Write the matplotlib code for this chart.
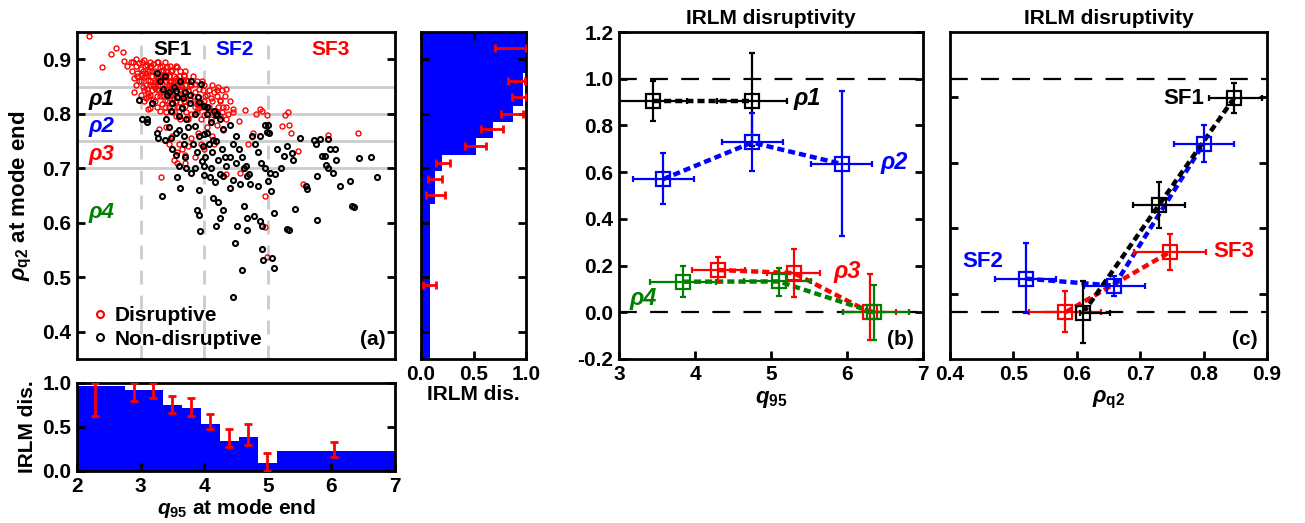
import numpy as np
import matplotlib
matplotlib.use("Agg")
import matplotlib.pyplot as plt
from matplotlib.lines import Line2D
from matplotlib.font_manager import FontProperties

plt.rcParams["font.family"] = ["Liberation Sans", "DejaVu Sans"]
plt.rcParams["font.weight"] = "bold"
plt.rcParams["axes.labelweight"] = "bold"
plt.rcParams["axes.titleweight"] = "bold"
plt.rcParams["mathtext.fontset"] = "custom"
plt.rcParams["mathtext.rm"] = "Liberation Sans:bold"
plt.rcParams["mathtext.it"] = "Liberation Sans:bold:italic"
plt.rcParams["mathtext.bf"] = "Liberation Sans:bold"

# ── (a) scatter: rho_q2 vs q95 at mode end ──────────────────────────────
dis_q95 = [2.19, 2.40, 2.53, 2.62, 2.73, 2.74, 2.78, 2.89, 3.12, 3.29, 3.32, 3.57, 3.70,
           2.85, 2.92, 2.98, 3.05, 3.10, 3.15, 3.20, 3.25, 3.30, 3.35, 3.42, 3.50, 3.58, 3.00, 2.95, 3.08,
           2.90, 2.98, 3.05, 3.12, 3.18, 3.22, 3.28, 3.33, 3.38, 3.45, 3.50, 3.55, 3.60, 3.65, 3.72, 3.78,
           3.03, 3.10, 3.15, 3.25, 3.35, 3.42,
           3.00, 3.08, 3.15, 3.20, 3.30, 3.38, 3.45, 3.52, 3.58, 3.62, 3.70, 3.78, 3.85, 3.90, 3.95, 4.05,
           4.10, 4.15, 3.92, 3.85,
           3.15, 3.30, 3.45, 3.60, 3.70, 3.80, 3.90, 4.00, 4.08, 4.18, 4.25, 4.30, 4.38, 3.55, 3.75,
           3.40, 3.50, 3.60, 3.65, 3.70, 3.75, 3.80, 3.90, 3.95, 4.05, 4.12, 4.20, 4.30, 3.58, 3.85, 4.00,
           3.45, 3.52, 4.15,
           4.64, 4.88, 4.98, 5.31, 5.27, 5.23, 5.34, 5.37, 5.47, 5.55, 5.95, 6.42, 4.96, 4.96, 4.98,
           4.34, 4.57, 4.82, 4.91, 4.77, 4.69, 4.54, 4.46, 4.35, 4.22, 4.25,
           3.02, 3.18, 3.27, 3.40, 3.47, 3.62, 3.68, 3.33, 3.12, 3.22, 3.48, 3.57, 3.75, 3.88, 4.02,
           # dense core
           2.88, 3.02, 3.14, 3.28, 3.38,
           2.93, 3.07, 3.17, 3.33, 3.46, 3.55,
           2.87, 3.03, 3.13, 3.22, 3.32, 3.40, 3.48, 3.62, 3.70,
           2.95, 3.08, 3.24, 3.35, 3.44, 3.52, 3.60, 3.68, 3.82,
           3.00, 3.15, 3.25, 3.40, 3.48, 3.57, 3.66, 3.75, 3.88, 3.97,
           2.93, 3.08, 3.20, 3.30, 3.45, 3.55, 3.70, 3.80, 4.00, 4.12,
           3.05, 3.18, 3.28, 3.40, 3.50, 3.63, 3.75, 3.98, 4.08, 4.20, 4.28,
           3.12, 3.25, 3.35, 3.48, 3.66, 3.82, 4.02, 4.20, 4.32,
           3.05, 3.22, 3.42, 3.55, 3.68, 3.88, 4.00, 4.12, 4.25, 4.40,
           3.25, 3.38, 3.52, 3.65, 3.85, 3.95, 4.05, 4.22, 4.35,
           3.40, 3.50, 3.72, 3.88, 4.12, 4.28, 4.45,
           3.62, 3.95, 4.10, 4.35]
dis_rho = [0.942, 0.885, 0.909, 0.921, 0.913, 0.897, 0.888, 0.840, 0.808, 0.772, 0.684, 0.710, 0.709,
           0.895, 0.900, 0.893, 0.898, 0.890, 0.885, 0.892, 0.895, 0.885, 0.880, 0.885, 0.880, 0.885, 0.882, 0.875, 0.875,
           0.865, 0.860, 0.868, 0.862, 0.870, 0.858, 0.865, 0.855, 0.868, 0.860, 0.852, 0.865, 0.858, 0.850, 0.862, 0.855,
           0.850, 0.845, 0.852, 0.845, 0.842, 0.848,
           0.835, 0.828, 0.835, 0.825, 0.832, 0.825, 0.835, 0.828, 0.838, 0.822, 0.832, 0.825, 0.840, 0.830, 0.820, 0.835,
           0.828, 0.840, 0.845, 0.855,
           0.810, 0.805, 0.812, 0.805, 0.815, 0.800, 0.810, 0.798, 0.812, 0.805, 0.795, 0.812, 0.800, 0.795, 0.790,
           0.775, 0.760, 0.745, 0.735, 0.725, 0.740, 0.755, 0.765, 0.745, 0.775, 0.760, 0.780, 0.770, 0.730, 0.720, 0.735,
           0.745, 0.715, 0.745,
           0.806, 0.808, 0.797, 0.804, 0.797, 0.777, 0.780, 0.765, 0.731, 0.671, 0.761, 0.764, 0.649, 0.592, 0.538,
           0.689, 0.692, 0.800, 0.805, 0.765, 0.744, 0.787, 0.808, 0.845, 0.850, 0.826,
           0.872, 0.878, 0.862, 0.872, 0.858, 0.845, 0.872, 0.818, 0.838, 0.848, 0.818, 0.812, 0.842, 0.818, 0.812,
           # dense core
           0.895, 0.895, 0.895, 0.895, 0.895,
           0.888, 0.888, 0.888, 0.888, 0.888, 0.888,
           0.878, 0.878, 0.878, 0.878, 0.878, 0.878, 0.878, 0.878, 0.878,
           0.870, 0.870, 0.870, 0.870, 0.870, 0.870, 0.870, 0.870, 0.870,
           0.860, 0.860, 0.860, 0.860, 0.860, 0.860, 0.860, 0.860, 0.860, 0.860,
           0.852, 0.852, 0.852, 0.852, 0.852, 0.852, 0.852, 0.852, 0.852, 0.852,
           0.843, 0.843, 0.843, 0.843, 0.843, 0.843, 0.843, 0.843, 0.843, 0.843, 0.843,
           0.833, 0.833, 0.833, 0.833, 0.833, 0.833, 0.833, 0.833, 0.833,
           0.823, 0.823, 0.823, 0.823, 0.823, 0.823, 0.823, 0.823, 0.823, 0.823,
           0.813, 0.813, 0.813, 0.813, 0.813, 0.813, 0.813, 0.813, 0.813,
           0.803, 0.803, 0.803, 0.803, 0.803, 0.803, 0.803,
           0.790, 0.790, 0.790, 0.790]

non_q95 = [2.97, 3.02, 3.10, 3.18, 3.25, 3.30, 3.35, 3.38, 3.45, 3.50, 3.52, 3.58, 3.62, 3.65, 3.70,
           3.72, 3.78, 3.80, 3.85, 3.90, 3.95, 4.00, 4.05, 4.10, 4.15, 4.20, 4.25, 3.40, 3.45, 3.48,
           3.55, 3.60, 3.68, 3.75, 3.82, 3.88, 3.92, 3.98, 4.02, 4.08, 4.12, 4.18, 4.22, 4.28, 4.32,
           4.35, 4.40, 4.45, 4.50, 4.55, 4.60, 4.65, 4.70, 4.75, 4.80, 4.85, 4.90, 4.95, 5.00, 5.02,
           4.40, 4.50, 4.25, 4.10, 4.00, 3.72, 3.70, 3.60, 3.55, 3.38, 3.25, 3.10,
           3.33, 3.58, 3.62, 3.92, 3.88, 3.92, 3.93, 4.14, 4.22, 4.29, 4.25, 4.19, 4.46, 4.49, 4.52,
           4.59, 4.62, 4.67, 4.68, 4.79, 4.88, 4.91, 4.91, 4.93, 5.06, 5.10, 5.09, 5.05, 5.01, 5.30,
           5.33, 5.43, 5.77, 6.32, 6.36, 6.71, 6.44, 6.62, 6.29, 6.14, 5.60, 5.62, 5.78, 5.95, 6.02,
           5.85, 5.82, 5.72, 5.76, 5.98, 5.95, 5.38, 5.40, 5.50, 5.30, 5.21, 5.14, 5.04, 4.96, 4.98,
           4.68, 4.57, 4.46, 4.41, 4.17, 4.09, 3.99, 3.80, 3.96, 4.05, 3.28, 4.88, 3.50, 3.68,
           3.85, 4.30, 4.62, 4.72, 4.84, 5.12, 5.25, 6.05, 6.08, 5.90, 5.92,
           3.42, 3.55, 3.66, 3.78, 3.92, 4.05, 4.18, 4.30, 3.48, 3.60, 3.86, 4.00, 4.14]
non_rho = [0.826, 0.790, 0.785, 0.820, 0.875, 0.860, 0.845, 0.870, 0.840, 0.820, 0.850, 0.830, 0.860, 0.810, 0.840,
           0.790, 0.820, 0.860, 0.800, 0.830, 0.855, 0.815, 0.800, 0.785, 0.805, 0.800, 0.790, 0.790, 0.775, 0.755,
           0.765, 0.770, 0.760, 0.775, 0.745, 0.730, 0.760, 0.740, 0.720, 0.745, 0.730, 0.750, 0.715, 0.735, 0.720,
           0.705, 0.720, 0.745, 0.760, 0.735, 0.720, 0.705, 0.690, 0.760, 0.745, 0.730, 0.710, 0.700, 0.780, 0.765,
           0.780, 0.710, 0.690, 0.700, 0.705, 0.700, 0.720, 0.705, 0.725, 0.752, 0.765, 0.790,
           0.649, 0.684, 0.663, 0.660, 0.624, 0.615, 0.584, 0.646, 0.638, 0.623, 0.609, 0.594, 0.463, 0.563, 0.594,
           0.514, 0.630, 0.609, 0.587, 0.612, 0.603, 0.594, 0.552, 0.532, 0.535, 0.517, 0.618, 0.658, 0.676, 0.588,
           0.586, 0.625, 0.605, 0.631, 0.628, 0.684, 0.719, 0.720, 0.676, 0.667, 0.667, 0.662, 0.686, 0.700, 0.692,
           0.722, 0.753, 0.752, 0.745, 0.735, 0.753, 0.728, 0.716, 0.756, 0.741, 0.700, 0.736, 0.692, 0.779, 0.766,
           0.686, 0.671, 0.679, 0.664, 0.675, 0.684, 0.688, 0.692, 0.713, 0.765, 0.755, 0.760, 0.735, 0.745,
           0.700, 0.685, 0.700, 0.672, 0.668, 0.690, 0.722, 0.735, 0.716, 0.722, 0.706,
           0.835, 0.842, 0.828, 0.835, 0.822, 0.812, 0.798, 0.772, 0.805, 0.795, 0.778, 0.762, 0.752]

sf_lines = [3, 4, 5]
rho_lines = [0.85, 0.80, 0.75, 0.70]

# ── bottom histogram: IRLM disruptivity vs q95 ──────────────────────────
q_edges = [2.0, 2.75, 3.05, 3.35, 3.65, 3.95, 4.25, 4.55, 4.85, 5.15, 7.0]
q_frac = [0.97, 0.92, 0.92, 0.75, 0.72, 0.53, 0.34, 0.39, 0.09, 0.23]
q_err_x = [2.29, 2.89, 3.19, 3.49, 3.79, 4.09, 4.39, 4.69, 4.98, 6.04]
q_err_lo = [0.63, 0.79, 0.83, 0.66, 0.63, 0.48, 0.27, 0.30, 0.00, 0.16]
q_err_hi = [1.00, 1.00, 1.00, 0.855, 0.83, 0.65, 0.48, 0.53, 0.21, 0.33]

# ── right histogram: IRLM disruptivity vs rho_q2 ────────────────────────
r_edges = [0.35, 0.635, 0.665, 0.695, 0.725, 0.755, 0.785, 0.815, 0.845, 0.875, 0.95]
r_frac = [0.09, 0.13, 0.13, 0.20, 0.52, 0.69, 0.88, 0.97, 0.97, 1.00]
r_err_y = [0.486, 0.651, 0.681, 0.709, 0.741, 0.772, 0.800, 0.831, 0.861, 0.920]
r_err_lo = [0.02, 0.05, 0.07, 0.14, 0.42, 0.57, 0.76, 0.87, 0.83, 0.70]
r_err_hi = [0.14, 0.23, 0.20, 0.28, 0.62, 0.78, 0.97, 1.00, 0.99, 1.00]

# ── (b) disruptivity vs q95 per rho range ───────────────────────────────
b_series = {
    "ρ1": dict(color="black", x=[3.45, 4.75], y=[0.905, 0.905],
               xlo=[2.98, 4.29], xhi=[3.90, 5.21], ylo=[0.82, 0.71], yhi=[0.99, 1.11],
               lab=(5.30, 0.915)),
    "ρ2": dict(color="blue", x=[3.58, 4.75, 5.93], y=[0.57, 0.727, 0.635],
               xlo=[3.18, 4.35, 5.52], xhi=[3.99, 5.16, 6.33], ylo=[0.463, 0.603, 0.328], yhi=[0.68, 0.853, 0.946],
               lab=(6.44, 0.64)),
    "ρ3": dict(color="red", x=[4.30, 5.30, 6.30], y=[0.181, 0.168, 0.0],
               xlo=[3.96, 4.95, 5.95], xhi=[4.66, 5.64, 6.64], ylo=[0.128, 0.064, -0.118], yhi=[0.235, 0.27, 0.165],
               lab=(5.82, 0.175)),
    "ρ4": dict(color="#008000", x=[3.84, 5.10, 6.35], y=[0.131, 0.132, 0.0],
               xlo=[3.41, 4.64, 5.95], xhi=[4.28, 5.52, 6.81], ylo=[0.064, 0.07, -0.118], yhi=[0.199, 0.19, 0.117],
               lab=(3.14, 0.06)),
}

# ── (c) disruptivity vs rho_q2 per q95 range ────────────────────────────
c_series = {
    "SF3": dict(color="red", x=[0.582, 0.747], y=[0.0, 0.258],
                xlo=[0.524, 0.690], xhi=[0.638, 0.804], ylo=[-0.085, 0.182], yhi=[0.089, 0.336],
                lab=(0.815, 0.26)),
    "SF2": dict(color="blue", x=[0.52, 0.659, 0.80], y=[0.144, 0.114, 0.722],
                xlo=[0.471, 0.612, 0.753], xhi=[0.567, 0.708, 0.848], ylo=[-0.003, 0.071, 0.642], yhi=[0.296, 0.156, 0.803],
                lab=(0.42, 0.218)),
    "SF1": dict(color="black", x=[0.61, 0.730, 0.848], y=[-0.003, 0.461, 0.917],
                xlo=[0.605, 0.689, 0.809], xhi=[0.652, 0.771, 0.892], ylo=[-0.132, 0.361, 0.853], yhi=[0.133, 0.556, 0.98],
                lab=(0.736, 0.917)),
}

W, H = 1305, 523
fig = plt.figure(figsize=(W / 100, H / 100), dpi=100)
TICK_FONT = FontProperties(family="Liberation Sans", weight="bold", size=15)


def box(l, t, r, b):
    return [l / W, (H - b) / H, (r - l) / W, (b - t) / H]


def style(ax):
    for s in ax.spines.values():
        s.set_linewidth(2)
    ax.tick_params(direction="in", length=6, width=2, labelsize=15, pad=4)


def set_ticks(ax, xt=None, xl=None, yt=None, yl=None):
    # explicit labels so they can carry the bold font
    if xt is not None:
        ax.set_xticks(xt)
        ax.set_xticklabels(xl if xl is not None else [str(v) for v in xt], fontproperties=TICK_FONT)
    if yt is not None:
        ax.set_yticks(yt)
        ax.set_yticklabels(yl if yl is not None else [str(v) for v in yt], fontproperties=TICK_FONT)


ax_a = fig.add_axes(box(77, 32, 395, 359))
ax_q = fig.add_axes(box(77, 383, 395, 471))
ax_r = fig.add_axes(box(421, 32, 526, 359))
ax_b = fig.add_axes(box(619, 32, 923, 359))
ax_c = fig.add_axes(box(950, 32, 1267, 359))
for ax in (ax_a, ax_q, ax_r, ax_b, ax_c):
    style(ax)

# Panel (a)
ax = ax_a
for x in sf_lines:
    ax.axvline(x, color="#cccccc", lw=2, ls=(0, (5, 4)), zorder=0)
for y in rho_lines:
    ax.axhline(y, color="#cccccc", lw=2, zorder=0)
ax.plot(dis_q95, dis_rho, "o", ms=3.6, mfc="none", mec="red", mew=1.0, ls="none")
ax.plot(non_q95, non_rho, "o", ms=3.6, mfc="none", mec="black", mew=1.5, ls="none")
ax.set_xlim(2, 7)
ax.set_ylim(0.35, 0.95)
ax.set_xticks([])
set_ticks(ax, yt=[0.4, 0.5, 0.6, 0.7, 0.8, 0.9])
ax.tick_params(axis="y", right=True)
ax.set_ylabel(r"$\rho_{\rm q2}$ at mode end", fontsize=16, labelpad=6)
for txt, x, c in [("SF1", 3.51, "black"), ("SF2", 4.48, "blue"), ("SF3", 5.98, "red")]:
    ax.text(x, 0.918, txt, color=c, fontsize=15, ha="center", va="center")
for txt, y, c in [("ρ1", 0.826, "black"), ("ρ2", 0.776, "blue"), ("ρ3", 0.725, "red"), ("ρ4", 0.618, "#008000")]:
    ax.text(2.39, y, txt, color=c, fontsize=16, style="italic", ha="center", va="center")
handles = [Line2D([], [], marker="o", ls="none", ms=5, mfc="none", mec="red", mew=1.5),
           Line2D([], [], marker="o", ls="none", ms=5, mfc="none", mec="black", mew=1.5)]
ax.legend(handles, ["Disruptive", "Non-disruptive"], loc="lower left", frameon=False,
          fontsize=15, handletextpad=0.1, borderaxespad=0.1, labelspacing=0.2, handlelength=1.2)
ax.text(0.97, 0.03, "(a)", transform=ax.transAxes, fontsize=15, ha="right", va="bottom")

# Bottom histogram
ax = ax_q
ax.stairs(q_frac, q_edges, fill=True, color="blue", zorder=1)
ax.errorbar(q_err_x, [(lo + hi) / 2 for lo, hi in zip(q_err_lo, q_err_hi)],
            yerr=[[(hi - lo) / 2 for lo, hi in zip(q_err_lo, q_err_hi)]] * 2,
            fmt="none", ecolor="red", elinewidth=2, capsize=3, capthick=2, zorder=3)
ax.set_xlim(2, 7)
ax.set_ylim(0, 1.0)
set_ticks(ax, xt=[2, 3, 4, 5, 6, 7], yt=[0.0, 0.5, 1.0])
ax.tick_params(axis="y", right=True)
ax.set_ylabel("IRLM dis.", fontsize=15, labelpad=4)
ax.set_xlabel(r"$q_{\rm 95}$ at mode end", fontsize=15, labelpad=1)

# Right histogram
ax = ax_r
ax.stairs(r_frac, r_edges, fill=True, color="blue", orientation="horizontal", zorder=1)
ax.errorbar([(lo + hi) / 2 for lo, hi in zip(r_err_lo, r_err_hi)], r_err_y,
            xerr=[[(hi - lo) / 2 for lo, hi in zip(r_err_lo, r_err_hi)]] * 2,
            fmt="none", ecolor="red", elinewidth=2, capsize=3, capthick=2, zorder=3)
ax.set_xlim(0, 1.0)
ax.set_ylim(0.35, 0.95)
set_ticks(ax, xt=[0.0, 0.5, 1.0])
ax.set_yticks([0.4, 0.5, 0.6, 0.7, 0.8, 0.9])
ax.tick_params(axis="y", right=True, labelleft=False)
ax.tick_params(axis="x", top=True)
ax.set_xlabel("IRLM dis.", fontsize=15, labelpad=1)


def draw_series(ax, series, fs):
    for name, s in series.items():
        c = s["color"]
        ax.plot(s["x"], s["y"], color=c, lw=3.2, ls=(0, (1.6, 0.9)), zorder=2)
        xerr = [[x - lo for x, lo in zip(s["x"], s["xlo"])], [hi - x for x, hi in zip(s["x"], s["xhi"])]]
        yerr = [[y - lo for y, lo in zip(s["y"], s["ylo"])], [hi - y for y, hi in zip(s["y"], s["yhi"])]]
        ax.errorbar(s["x"], s["y"], xerr=xerr, yerr=yerr, fmt="s", ms=10, mfc="none", mec=c, mew=1.6,
                    ecolor=c, elinewidth=1.6, capsize=2.5, capthick=1.6, zorder=3)
        style_kw = dict(style="italic") if name.startswith("ρ") else {}
        ax.text(s["lab"][0], s["lab"][1], name, color=c, fontsize=fs, ha="left", va="center", **style_kw)


# Panel (b)
ax = ax_b
for y in (0.0, 1.0):
    ax.axhline(y, color="black", lw=1.6, ls=(0, (8, 6)), zorder=1)
draw_series(ax, b_series, 17)
ax.set_xlim(3, 7)
ax.set_ylim(-0.2, 1.2)
set_ticks(ax, xt=[3, 4, 5, 6, 7], yt=[-0.2, 0.0, 0.2, 0.4, 0.6, 0.8, 1.0, 1.2])
ax.tick_params(axis="y", right=True)
ax.set_title("IRLM disruptivity", fontsize=15, pad=6)
ax.set_xlabel(r"$q_{\rm 95}$", fontsize=16, labelpad=4)
ax.text(0.97, 0.03, "(b)", transform=ax.transAxes, fontsize=15, ha="right", va="bottom")

# Panel (c)
ax = ax_c
for y in (0.0, 1.0):
    ax.axhline(y, color="black", lw=1.6, ls=(0, (8, 6)), zorder=1)
draw_series(ax, c_series, 16)
ax.set_xlim(0.4, 0.9)
ax.set_ylim(-0.2, 1.2)
set_ticks(ax, xt=[0.4, 0.5, 0.6, 0.7, 0.8, 0.9])
ax.set_yticks([0.08, 0.36, 0.64, 0.92])
ax.tick_params(axis="y", right=True, labelleft=False)
ax.set_title("IRLM disruptivity", fontsize=15, pad=6)
ax.set_xlabel(r"$\rho_{\rm q2}$", fontsize=16, labelpad=4)
ax.text(0.97, 0.03, "(c)", transform=ax.transAxes, fontsize=15, ha="right", va="bottom")

fig.savefig("out.png", dpi=100)
